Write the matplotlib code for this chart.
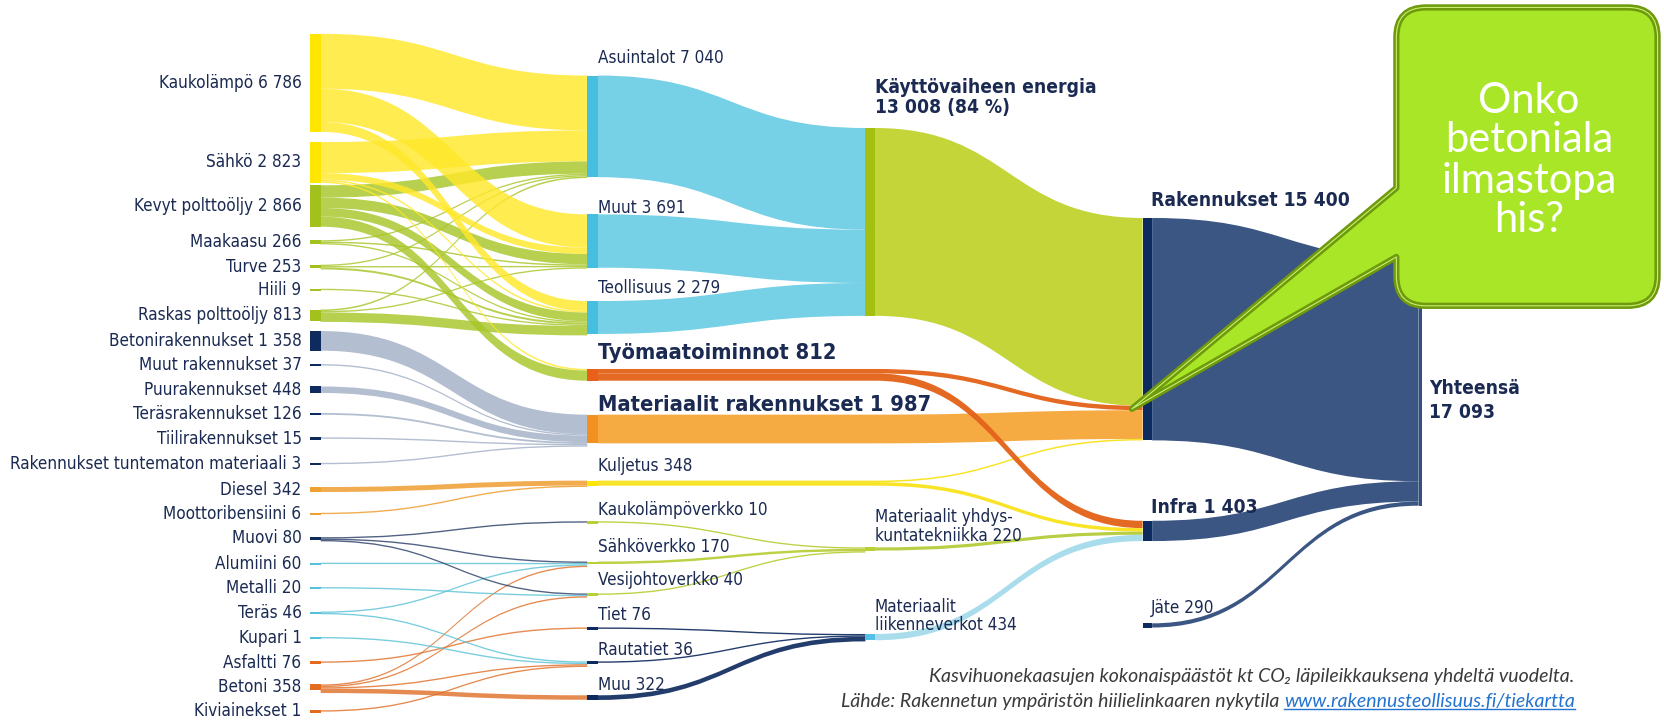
import matplotlib.pyplot as plt
from matplotlib import font_manager as fm
from matplotlib.path import Path
from matplotlib.patches import PathPatch, Rectangle

# --- data (kt CO2) ---
energy_sources = ["Kaukolämpö", "Sähkö", "Kevyt polttoöljy", "Maakaasu", "Turve", "Hiili", "Raskas polttoöljy"]
energy_values = [6786, 2823, 2866, 266, 253, 9, 813]
building_materials = ["Betonirakennukset", "Muut rakennukset", "Puurakennukset", "Teräsrakennukset",
                      "Tiilirakennukset", "Rakennukset tuntematon materiaali"]
building_material_values = [1358, 37, 448, 126, 15, 3]
fuels = ["Diesel", "Moottoribensiini"]
fuel_values = [342, 6]
infra_materials = ["Muovi", "Alumiini", "Metalli", "Teräs", "Kupari", "Asfaltti", "Betoni", "Kiviainekset"]
infra_material_values = [80, 60, 20, 46, 1, 76, 358, 1]

uses = ["Asuintalot", "Muut", "Teollisuus", "Työmaatoiminnot", "Materiaalit rakennukset", "Kuljetus",
        "Kaukolämpöverkko", "Sähköverkko", "Vesijohtoverkko", "Tiet", "Rautatiet", "Muu"]
use_values = [7040, 3691, 2279, 812, 1987, 348, 10, 170, 40, 76, 36, 322]
groups = ["Käyttövaiheen energia", "Materiaalit yhdyskuntatekniikka", "Materiaalit liikenneverkot"]
group_values = [13008, 220, 434]
sectors = ["Rakennukset", "Infra", "Jäte"]
sector_values = [15400, 1403, 290]
total_name = "Yhteensä"
total_value = 17093

links = [
    ("Kaukolämpö", "Asuintalot", 3800), ("Kaukolämpö", "Muut", 2300), ("Kaukolämpö", "Teollisuus", 686),
    ("Sähkö", "Asuintalot", 2150), ("Sähkö", "Muut", 449), ("Sähkö", "Teollisuus", 112),
    ("Sähkö", "Työmaatoiminnot", 112),
    ("Kevyt polttoöljy", "Asuintalot", 850), ("Kevyt polttoöljy", "Muut", 716),
    ("Kevyt polttoöljy", "Teollisuus", 600), ("Kevyt polttoöljy", "Työmaatoiminnot", 700),
    ("Maakaasu", "Asuintalot", 90), ("Maakaasu", "Muut", 102), ("Maakaasu", "Teollisuus", 74),
    ("Turve", "Asuintalot", 40), ("Turve", "Muut", 74), ("Turve", "Teollisuus", 139),
    ("Hiili", "Teollisuus", 9),
    ("Raskas polttoöljy", "Asuintalot", 110), ("Raskas polttoöljy", "Muut", 50),
    ("Raskas polttoöljy", "Teollisuus", 653),
    ("Betonirakennukset", "Materiaalit rakennukset", 1358), ("Muut rakennukset", "Materiaalit rakennukset", 37),
    ("Puurakennukset", "Materiaalit rakennukset", 448), ("Teräsrakennukset", "Materiaalit rakennukset", 126),
    ("Tiilirakennukset", "Materiaalit rakennukset", 15),
    ("Rakennukset tuntematon materiaali", "Materiaalit rakennukset", 3),
    ("Diesel", "Kuljetus", 342), ("Moottoribensiini", "Kuljetus", 6),
    ("Muovi", "Kaukolämpöverkko", 10), ("Muovi", "Sähköverkko", 55), ("Muovi", "Vesijohtoverkko", 15),
    ("Alumiini", "Sähköverkko", 60), ("Metalli", "Vesijohtoverkko", 20),
    ("Teräs", "Sähköverkko", 20), ("Teräs", "Rautatiet", 26), ("Kupari", "Rautatiet", 1),
    ("Asfaltti", "Tiet", 76),
    ("Betoni", "Sähköverkko", 35), ("Betoni", "Vesijohtoverkko", 5), ("Betoni", "Rautatiet", 9),
    ("Betoni", "Muu", 309), ("Kiviainekset", "Rautatiet", 1),
    ("Asuintalot", "Käyttövaiheen energia", 7040), ("Muut", "Käyttövaiheen energia", 3691),
    ("Teollisuus", "Käyttövaiheen energia", 2279),
    ("Kaukolämpöverkko", "Materiaalit yhdyskuntatekniikka", 10),
    ("Sähköverkko", "Materiaalit yhdyskuntatekniikka", 170),
    ("Vesijohtoverkko", "Materiaalit yhdyskuntatekniikka", 40),
    ("Tiet", "Materiaalit liikenneverkot", 76), ("Rautatiet", "Materiaalit liikenneverkot", 36),
    ("Muu", "Materiaalit liikenneverkot", 322),
    ("Työmaatoiminnot", "Rakennukset", 305), ("Työmaatoiminnot", "Infra", 507),
    ("Materiaalit rakennukset", "Rakennukset", 1987),
    ("Kuljetus", "Rakennukset", 105), ("Kuljetus", "Infra", 243),
    ("Käyttövaiheen energia", "Rakennukset", 13008),
    ("Materiaalit yhdyskuntatekniikka", "Infra", 220), ("Materiaalit liikenneverkot", "Infra", 434),
    ("Rakennukset", "Yhteensä", 15400), ("Infra", "Yhteensä", 1403), ("Jäte", "Yhteensä", 290),
]

# --- layout & style ---
K = 0.0136            # px per kt
col_x = [292, 553, 815, 1076, 1336]
bar_w = [10, 10, 9, 9, 3]
left_y = [78, 153, 194, 228, 251, 273, 297, 321, 344, 367, 390, 413, 437,
          461, 484, 507, 531, 554, 577, 601, 624, 647, 670]
use_y = [119, 227, 299, 353, 404, 455, 492, 530, 560, 592, 624, 657]
use_label_y = [55, 196, 271, 332, 381, 439, 480, 515, 546, 579, 612, 645]
group_y = [209, 517, 600]
group_label_y = [92, 496, 580]
sector_y = [310, 500, 589]
sector_label_y = [189, 478, 573]
total_y = 360

NAVY = "#0D2B5E"
TXT = "#1B2A52"

avail = {(f.name, f.stretch) for f in fm.fontManager.ttflist}
if any(n == "Liberation Sans Narrow" for n, s in avail):
    FONT = dict(family=["Liberation Sans Narrow", "DejaVu Sans"])
elif ("DejaVu Sans", "condensed") in avail:
    FONT = dict(family=["DejaVu Sans"], fontstretch="condensed")
else:
    FONT = dict(family=["Roboto", "DejaVu Sans"])
FFONT = dict(family=["Lato", "DejaVu Sans"], style="italic")

bar_col, flow_col = {}, {}
def style(names, bar, flow):
    for n in names:
        bar_col[n] = bar
        flow_col[n] = flow

style(energy_sources[:2], "#FFE600", "#FFE82A")
style(energy_sources[2:], "#A2C11C", "#A8C62A")
style(building_materials, NAVY, "#A3B0C6")
style(fuels, "#F0A030", "#EE9A28")
style(["Muovi"], NAVY, "#2C3F68")
style(["Alumiini", "Metalli", "Teräs", "Kupari"], "#55C0DA", "#5CC3D6")
style(["Asfaltti", "Betoni", "Kiviainekset"], "#E46A1E", "#E0712A")
style(uses[:3], "#45BEE0", "#72CFE6")
style(["Työmaatoiminnot"], "#E8601A", "#E4641C")
style(["Materiaalit rakennukset"], "#F39120", "#F5A73C")
style(["Kuljetus"], "#FFE500", "#F8E21E")
style(uses[6:9], "#B9CF34", "#BCD040")
style(uses[9:], NAVY, "#1B3566")
style(["Käyttövaiheen energia"], "#A3BF0F", "#C2D433")
style(["Materiaalit yhdyskuntatekniikka"], "#B9CF34", "#B7CD3E")
style(["Materiaalit liikenneverkot"], "#55C0E5", "#A6DCEC")
style(sectors, NAVY, "#34507F")
style([total_name], "#34507F", "#34507F")

nodes = {}
def add_nodes(names, values, col, ys):
    for n, v, y in zip(names, values, ys):
        nodes[n] = dict(col=col, y=y, h=max(v * K, 2.2), v=v)

add_nodes(energy_sources + building_materials + fuels + infra_materials,
          energy_values + building_material_values + fuel_values + infra_material_values, 0, left_y)
add_nodes(uses, use_values, 1, use_y)
add_nodes(groups, group_values, 2, group_y)
add_nodes(sectors, sector_values, 3, sector_y)
add_nodes([total_name], [total_value], 4, [total_y])

fig = plt.figure(figsize=(16.65, 7.21), dpi=100)
ax = fig.add_axes([0, 0, 1, 1])
ax.set_xlim(0, 1568)
ax.set_ylim(679, 0)
ax.axis("off")
renderer = fig.canvas.get_renderer()


def width_of(s, size, **kw):
    t = ax.text(0, 0, s, fontsize=size, **kw)
    bb = t.get_window_extent(renderer).transformed(ax.transData.inverted())
    t.remove()
    return bb.x1 - bb.x0


def fit(samples, **kw):
    sizes = [13 * w / width_of(s, 13, **kw) for s, w in samples]
    return sum(sizes) / len(sizes)


size_reg = fit([("Rakennukset tuntematon materiaali 3", 273), ("Kaukolämpö 6 786", 133),
                ("Kaukolämpöverkko 10", 159), ("Asuintalot 7 040", 120)], **FONT)
size_big = fit([("Materiaalit rakennukset 1 987", 342), ("Työmaatoiminnot 812", 205)],
               fontweight="bold", **FONT)
size_mid = fit([("Käyttövaiheen energia", 213), ("Infra 1 403", 102), ("Rakennukset 15 400", 177)],
               fontweight="bold", **FONT)
size_foot = fit([("Kasvihuonekaasujen kokonaispäästöt kt CO₂ läpileikkauksena yhdeltä vuodelta.", 605)],
                **FFONT)


def band(x0, xb, x1, s0, s1, t0, t1, color, alpha):
    xm = (xb + x1) / 2
    verts = [(x0, s0), (xb, s0), (xm, s0), (xm, t0), (x1, t0), (x1, t1),
             (xm, t1), (xm, s1), (xb, s1), (x0, s1), (x0, s0)]
    codes = [Path.MOVETO, Path.LINETO, Path.CURVE4, Path.CURVE4, Path.CURVE4, Path.LINETO,
             Path.CURVE4, Path.CURVE4, Path.CURVE4, Path.LINETO, Path.CLOSEPOLY]
    ax.add_patch(PathPatch(Path(verts, codes), fc=color, lw=0, alpha=alpha, zorder=1))


# stack links inside nodes
out_off = {n: 0.0 for n in nodes}
in_off = {n: 0.0 for n in nodes}
src_pos = {}
for s, t, v in sorted(links, key=lambda l: (nodes[l[0]]["y"], nodes[l[1]]["y"])):
    w = max(v * K, 1.3)
    top = nodes[s]["y"] - nodes[s]["h"] / 2 + out_off[s]
    src_pos[(s, t)] = (top, top + w)
    out_off[s] += w
for s, t, v in sorted(links, key=lambda l: (nodes[l[1]]["y"], nodes[l[0]]["y"])):
    w = max(v * K, 1.3)
    top = nodes[t]["y"] - nodes[t]["h"] / 2 + in_off[t]
    in_off[t] += w
    s0, s1 = src_pos[(s, t)]
    cs, ct = nodes[s]["col"], nodes[t]["col"]
    x0 = col_x[cs] + bar_w[cs]
    xb = col_x[ct - 1] + bar_w[ct - 1] if ct - cs > 1 else x0
    a = 0.82 if cs == 0 else 0.97
    band(x0, xb, col_x[ct], s0, s1, top, top + w, flow_col[s], a)

for n, d in nodes.items():
    c = d["col"]
    ax.add_patch(Rectangle((col_x[c], d["y"] - d["h"] / 2), bar_w[c], d["h"],
                           fc=bar_col[n], lw=0, zorder=3))


def fmt(v):
    return f"{v:,}".replace(",", " ")


# labels
for n in energy_sources + building_materials + fuels + infra_materials:
    ax.text(284, nodes[n]["y"], f"{n} {fmt(nodes[n]['v'])}", ha="right", va="center",
            fontsize=size_reg, color=TXT, **FONT)
for n, ly in zip(uses, use_label_y):
    big = n in ("Työmaatoiminnot", "Materiaalit rakennukset")
    ax.text(563, ly, f"{n} {fmt(nodes[n]['v'])}", ha="left", va="center",
            fontsize=size_big if big else size_reg, fontweight="bold" if big else "normal",
            color=TXT, **FONT)
share = round(100 * group_values[0] / sector_values[0])
group_text = [f"Käyttövaiheen energia\n{fmt(group_values[0])} ({share} %)",
              f"Materiaalit yhdys-\nkuntatekniikka {group_values[1]}",
              f"Materiaalit\nliikenneverkot {group_values[2]}"]
for i, (s, ly) in enumerate(zip(group_text, group_label_y)):
    ax.text(824, ly, s, ha="left", va="center", fontsize=size_mid if i == 0 else size_reg,
            fontweight="bold" if i == 0 else "normal", color=TXT, linespacing=1.05, **FONT)
for i, (n, ly) in enumerate(zip(sectors, sector_label_y)):
    ax.text(1084, ly, f"{n} {fmt(sector_values[i])}", ha="left", va="center",
            fontsize=size_mid if i < 2 else size_reg, fontweight="bold" if i < 2 else "normal",
            color=TXT, **FONT)
ax.text(1346, 377, f"{total_name}\n{fmt(total_value)}", ha="left", va="center", fontsize=size_mid,
        fontweight="bold", color=TXT, linespacing=1.3, **FONT)

# footer
ax.text(1483, 637, "Kasvihuonekaasujen kokonaispäästöt kt CO₂ läpileikkauksena yhdeltä vuodelta.",
        ha="right", va="center", fontsize=size_foot, color="#3A3A3A", **FFONT)
url = ax.text(1483, 661, "www.rakennusteollisuus.fi/tiekartta", ha="right", va="center",
              fontsize=size_foot, color="#2373D0", **FFONT)
bb = url.get_window_extent(renderer).transformed(ax.transData.inverted())
ax.plot([bb.x0, bb.x1], [bb.y0 - 1, bb.y0 - 1], color="#2373D0", lw=1)
ax.text(bb.x0 - 4, 661, "Lähde: Rakennetun ympäristön hiilielinkaaren nykytila", ha="right", va="center",
        fontsize=size_foot, color="#3A3A3A", **FFONT)

# callout
x0, x1, y0, y1, r = 1315, 1561, 7, 288, 28
ya, yb = 177, 242
tip = (1066, 385)
verts = [(x0 + r, y0), (x1 - r, y0), (x1, y0), (x1, y0 + r), (x1, y1 - r), (x1, y1), (x1 - r, y1),
         (x0 + r, y1), (x0, y1), (x0, y1 - r), (x0, yb), tip, (x0, ya), (x0, y0 + r), (x0, y0),
         (x0 + r, y0), (x0 + r, y0)]
codes = [Path.MOVETO, Path.LINETO, Path.CURVE3, Path.CURVE3, Path.LINETO, Path.CURVE3, Path.CURVE3,
         Path.LINETO, Path.CURVE3, Path.CURVE3, Path.LINETO, Path.LINETO, Path.LINETO, Path.LINETO,
         Path.CURVE3, Path.CURVE3, Path.CLOSEPOLY]
ax.add_patch(PathPatch(Path(verts, codes), fc="#A9E628", ec="#6E9A0C", lw=4.5, joinstyle="round", zorder=5))
ax.add_patch(PathPatch(Path(verts, codes), fc="none", ec="#C8EE70", lw=0.8, joinstyle="round", zorder=5))
for line, ly in zip(["Onko", "betoniala", "ilmastopa", "his?"], [95, 132, 170, 207]):
    ax.text(1440, ly, line, ha="center", va="center", fontsize=30, color="white",
            family=["Lato", "DejaVu Sans"], zorder=6)

fig.savefig("out.png", dpi=100)
